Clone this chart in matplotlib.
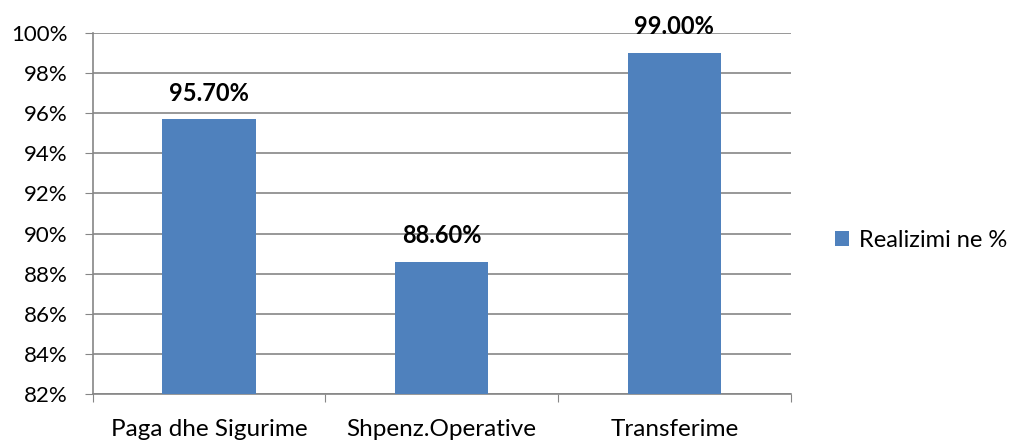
import matplotlib

matplotlib.use("Agg")
import matplotlib.pyplot as plt
from matplotlib.ticker import FuncFormatter, MultipleLocator

categories = ["Paga dhe Sigurime", "Shpenz.Operative", "Transferime"]
values = [95.70, 88.60, 99.00]
series_name = "Realizimi ne %"

plt.rcParams["font.family"] = ["Lato", "DejaVu Sans"]

fig = plt.figure(figsize=(10.12, 4.41), dpi=100)
ax = fig.add_axes([0.0916, 0.1066, 0.6897, 0.8186])

x = list(range(len(categories)))
bars = ax.bar(x, values, width=0.40, color="#4F81BD", zorder=3, label=series_name)

# data labels above bars
for xi, v in zip(x, values):
    ax.text(xi, v + 1.3, f"{v:.2f}%", ha="center", va="center",
            fontsize=17, fontweight="bold", color="black", zorder=4)

ax.set_ylim(82, 100)
ax.yaxis.set_major_locator(MultipleLocator(2))
ax.yaxis.set_major_formatter(FuncFormatter(lambda v, _: f"{v:.0f}%"))
ax.grid(axis="y", color="#868686", linewidth=1.2, zorder=0)

# ticks at category boundaries, labels at centres
ax.set_xlim(-0.5, len(categories) - 0.5)
ax.set_xticks([i - 0.5 for i in range(len(categories) + 1)])
ax.set_xticklabels([])
ax.set_xticks(x, minor=True)
ax.set_xticklabels(categories, minor=True)
ax.tick_params(axis="x", which="minor", length=0, pad=18, labelsize=17.5)
ax.tick_params(axis="x", which="major", length=6, color="#868686")
ax.tick_params(axis="y", length=6, color="#868686", labelsize=16, pad=12)

for side in ["top", "right"]:
    ax.spines[side].set_visible(False)
for side in ["left", "bottom"]:
    ax.spines[side].set_color("#868686")
    ax.spines[side].set_linewidth(1.2)

fig.legend(handles=[bars], labels=[series_name], loc="center left",
           bbox_to_anchor=(835 / 1012, 1 - 240 / 441), frameon=False,
           borderpad=0, borderaxespad=0,
           fontsize=17, handlelength=0.6, handleheight=0.6, handletextpad=0.4)

fig.savefig("out.png", dpi=100)
